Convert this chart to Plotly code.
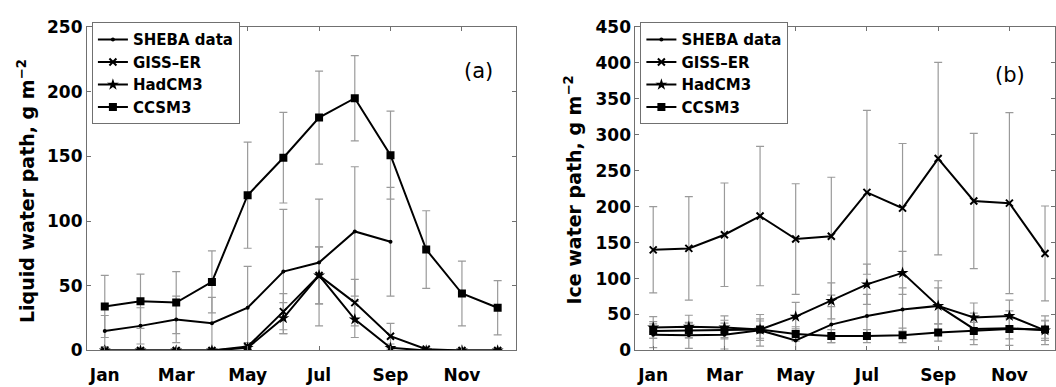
import plotly.graph_objects as go

months = list(range(1, 13))
tick_vals = [1, 3, 5, 7, 9, 11]
tick_text = ["Jan", "Mar", "May", "Jul", "Sep", "Nov"]
series_names = ["SHEBA data", "GISS\u2013ER", "HadCM3", "CCSM3"]

# Panel (a): liquid water path, g m^-2
lwp_sheba = [15, 19, 24, 21, 33, 61, 68, 92, 84, None, None, None]
lwp_sheba_err = [12, 14, 18, 20, 32, 48, 49, 50, 42, None, None, None]
lwp_giss = [0, 0, 0, 0, 3, 30, 58, 37, 11, 1, 0, 0]
lwp_giss_err = [0, 0, 0, 0, 3, 14, 22, 18, 10, 1, 0, 0]
lwp_had = [0, 0, 0, 0, 2, 25, 58, 24, 2, 0, 0, 0]
lwp_had_err = [0, 0, 0, 0, 2, 12, 22, 14, 3, 0, 0, 0]
lwp_ccsm = [34, 38, 37, 53, 120, 149, 180, 195, 151, 78, 44, 33]
lwp_ccsm_err = [24, 21, 24, 24, 41, 35, 36, 33, 34, 30, 25, 21]

# Panel (b): ice water path, g m^-2
iwp_sheba = [22, 21, 22, 28, 14, 36, 48, 57, 62, 30, 31, 28]
iwp_sheba_err = [18, 18, 20, 22, 16, 25, 30, 30, 35, 22, 24, 20]
iwp_giss = [140, 142, 161, 187, 155, 159, 220, 198, 267, 208, 205, 135]
iwp_giss_err = [60, 72, 72, 97, 77, 82, 114, 90, 134, 94, 126, 66]
iwp_had = [32, 33, 32, 29, 47, 69, 92, 108, 62, 46, 48, 28]
iwp_had_err = [15, 16, 16, 15, 20, 25, 28, 30, 25, 20, 22, 14]
iwp_ccsm = [27, 28, 28, 29, 23, 20, 20, 21, 25, 27, 30, 29]
iwp_ccsm_err = [10, 10, 10, 12, 10, 9, 9, 10, 12, 12, 14, 12]

W, H = 1056, 387
FONT = "DejaVu Sans"
symbols = ["circle", "x-thin-open", "star", "square"]
sizes = [4, 7, 9, 8]

fig = go.Figure()

panels = [
    ("x", "y", "legend", [lwp_sheba, lwp_giss, lwp_had, lwp_ccsm],
     [lwp_sheba_err, lwp_giss_err, lwp_had_err, lwp_ccsm_err]),
    ("x2", "y2", "legend2", [iwp_sheba, iwp_giss, iwp_had, iwp_ccsm],
     [iwp_sheba_err, iwp_giss_err, iwp_had_err, iwp_ccsm_err]),
]

for xa, ya, lg, vals, errs in panels:
    # error bars first (behind lines)
    for v, e in zip(vals, errs):
        fig.add_trace(go.Scatter(
            x=months, y=v, xaxis=xa, yaxis=ya, mode="markers",
            marker=dict(size=1, color="rgba(0,0,0,0)"),
            error_y=dict(type="data", array=e, visible=True,
                         color="#9a9a9a", thickness=1.2, width=4),
            showlegend=False, hoverinfo="skip"))
    for name, v, sym, sz in zip(series_names, vals, symbols, sizes):
        fig.add_trace(go.Scatter(
            x=months, y=v, xaxis=xa, yaxis=ya, name=name, legend=lg,
            mode="lines+markers",
            line=dict(color="black", width=2),
            marker=dict(symbol=sym, size=sz, color="black",
                        line=dict(color="black", width=2 if "x" in sym else 0)),
            connectgaps=False))

ydom = [(H - 359) / H, (H - 18) / H]
axis_common = dict(
    showline=True, mirror="ticks", linecolor="#707070", linewidth=1,
    ticks="inside", ticklen=4, tickcolor="#707070",
    showgrid=False, zeroline=False,
    tickfont=dict(family=FONT, size=17, color="black", weight="bold"),
)
xaxis_extra = dict(ticklabelstandoff=9)

fig.update_layout(
    width=W, height=H,
    margin=dict(l=0, r=0, t=0, b=0),
    plot_bgcolor="white", paper_bgcolor="white",
    xaxis=dict(domain=[87 / W, 516 / W], range=[0.5, 12.5],
               tickvals=tick_vals, ticktext=tick_text, anchor="y",
               **axis_common, **xaxis_extra),
    yaxis=dict(domain=ydom, range=[0, 250], tickvals=[0, 50, 100, 150, 200, 250],
               anchor="x", **axis_common),
    xaxis2=dict(domain=[636 / W, 1.0], range=[0.5, 12.28],
                tickvals=tick_vals, ticktext=tick_text, anchor="y2",
                **axis_common, **xaxis_extra),
    yaxis2=dict(domain=ydom, range=[0, 450],
                tickvals=[0, 50, 100, 150, 200, 250, 300, 350, 400, 450],
                anchor="x2", **axis_common),
    legend=dict(x=92 / W, y=(H - 13) / H, xanchor="left", yanchor="top",
                bgcolor="white", bordercolor="#707070", borderwidth=1,
                font=dict(family=FONT, size=15, color="black", weight="bold"),
                tracegroupgap=0),
    legend2=dict(x=641 / W, y=(H - 13) / H, xanchor="left", yanchor="top",
                 bgcolor="white", bordercolor="#707070", borderwidth=1,
                 font=dict(family=FONT, size=15, color="black", weight="bold"),
                 tracegroupgap=0),
    annotations=[
        dict(text="Liquid water path, g m<sup>\u22122</sup>", textangle=-90,
             x=40 / W, xanchor="right", y=(H - 191) / H, xref="paper", yref="paper",
             showarrow=False, font=dict(family=FONT, size=19, color="black", weight="bold")),
        dict(text="Ice water path, g m<sup>\u22122</sup>", textangle=-90,
             x=588 / W, xanchor="right", y=(H - 190) / H, xref="paper", yref="paper",
             showarrow=False, font=dict(family=FONT, size=19, color="black", weight="bold")),
        dict(text="(a)", x=479 / W, y=(H - 50) / H, xref="paper", yref="paper",
             showarrow=False, font=dict(family=FONT, size=21, color="black")),
        dict(text="(b)", x=1028 / W, y=(H - 54) / H, xref="paper", yref="paper",
             showarrow=False, font=dict(family=FONT, size=21, color="black")),
    ],
)

fig.write_html("out.html")
